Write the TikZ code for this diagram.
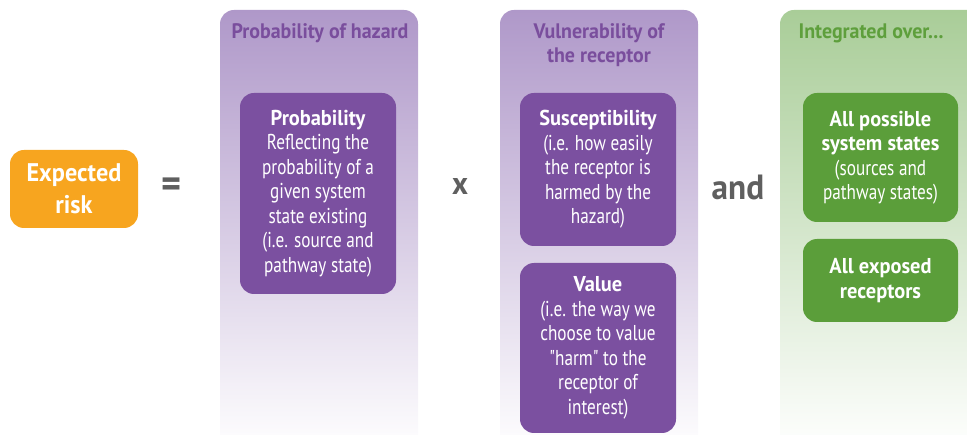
\documentclass[tikz,border=0pt]{standalone}
\usepackage{fontspec}
\setmainfont{PT Sans}[Ligatures=TeXOff, FakeStretch=0.8, BoldFeatures={FakeStretch=0.95}]
\definecolor{riskorange}{HTML}{F7A51F}
\definecolor{signgray}{HTML}{5F5F5F}
\definecolor{colpurple}{HTML}{AF98C9}
\definecolor{boxpurple}{HTML}{7B50A0}
\definecolor{titlepurple}{HTML}{7A4E9D}
\definecolor{colgreen}{HTML}{A9CD98}
\definecolor{boxgreen}{HTML}{5B9E3A}
\definecolor{titlegreen}{HTML}{5E9F3C}
\tikzset{
  inbox/.style={rounded corners=14pt, text=white, align=center, inner sep=0pt,
    font=\fontsize{21.5}{24.5}\selectfont},
  coltitle/.style={align=center, font=\bfseries\fontsize{21}{24.5}\selectfont},
  sign/.style={text=signgray, font=\bfseries\fontsize{32}{32}\selectfont},
}
\newcommand{\boxhead}[1]{{\bfseries\fontsize{21.5}{24.5}\selectfont #1}}
\begin{document}
\begin{tikzpicture}[x=1pt,y=-1pt]
\useasboundingbox (0,0) rectangle (967,435);

% background columns
\shade[top color=colpurple, bottom color=white, rounded corners=14pt] (220,10) rectangle (418,452);
\shade[top color=colpurple, bottom color=white, rounded corners=14pt] (500,10) rectangle (698,452);
\shade[top color=colgreen, bottom color=white, rounded corners=14pt] (780,10) rectangle (990,452);

\node[coltitle, text=titlepurple] (tprob) at (320,33) {Probability of hazard};
\node[coltitle, text=titlepurple] (tvuln) at (599,45) {Vulnerability of\\the receptor};
\node[coltitle, text=titlegreen] (tint) at (871,33) {Integrated over...};

% left side of the equation
\node[inbox, fill=riskorange, minimum width=128, minimum height=78,
  font=\bfseries\fontsize{25.5}{32}\selectfont] (risk) at (74,189) {Expected\\risk};
\node[sign, font=\bfseries\fontsize{40}{40}\selectfont] (eq) at (172,188) {=};

% probability
\node[inbox, fill=boxpurple, minimum width=156, minimum height=201] (prob) at (318,193.5)
  {\boxhead{Probability}\\Reflecting the\\probability of a\\given system\\state existing\\(i.e. source and\\pathway state)};
\node[sign] (times) at (460,187) {x};

% vulnerability
\node[inbox, fill=boxpurple, minimum width=156, minimum height=153] (susc) at (598,169.5)
  {\boxhead{Susceptibility}\\(i.e. how easily\\the receptor is\\harmed by the\\hazard)};
\node[inbox, fill=boxpurple, minimum width=156, minimum height=170] (value) at (598,348)
  {\boxhead{Value}\\(i.e. the way we\\choose to value\\"harm" to the\\receptor of\\interest)};
\node[sign, font=\bfseries\fontsize{35}{35}\selectfont] (and) at (738,187) {and};

% integration
\node[inbox, fill=boxgreen, minimum width=155, minimum height=129] (states) at (880.5,157.5)
  {\boxhead{All possible}\\\boxhead{system states}\\(sources and\\pathway states)};
\node[inbox, fill=boxgreen, minimum width=155, minimum height=83] (recept) at (880.5,280.5)
  {\boxhead{All exposed}\\\boxhead{receptors}};
\end{tikzpicture}
\end{document}
